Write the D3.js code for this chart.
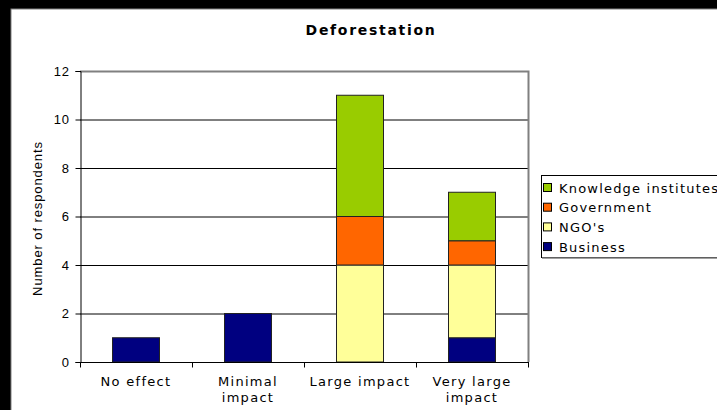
<!DOCTYPE html>
<html>
<head>
<meta charset="utf-8">
<script src="https://cdn.jsdelivr.net/npm/d3@7"></script>
<style>
  html, body { margin: 0; padding: 0; background: #000; }
  svg { display: block; }
</style>
</head>
<body>
<svg id="chart" width="717" height="410"></svg>
<script>
// Categories along the x axis (multi-line labels)
const categories = ["No effect", "Minimal impact", "Large impact", "Very large impact"];
const categoryLines = [["No effect"], ["Minimal", "impact"], ["Large impact"], ["Very large", "impact"]];

// Respondent counts per stakeholder group, stacked bottom to top
const series = ["Business", "NGO's", "Government", "Knowledge institutes"];
const business  = [1, 2, 0, 1];
const ngos      = [0, 0, 4, 3];
const government = [0, 0, 2, 1];
const knowledge = [0, 0, 5, 2];
const colors = ["#000080", "#FFFF99", "#FF6600", "#99CC00"];
const yTicks = [0, 2, 4, 6, 8, 10, 12];

const rows = categories.map((c, i) => ({
  cat: c,
  "Business": business[i],
  "NGO's": ngos[i],
  "Government": government[i],
  "Knowledge institutes": knowledge[i]
}));

const svg = d3.select("#chart");

// White chart panel with a grey edge on the black page
svg.append("rect").attr("x", 11).attr("y", 9).attr("width", 720).attr("height", 420)
  .attr("fill", "#fff").attr("stroke", "#808080").attr("stroke-width", 1);

const plot = { left: 80, right: 528, top: 71, bottom: 362 };

const x = d3.scaleBand().domain(categories).range([plot.left, plot.right]).paddingInner(0).paddingOuter(0);
const y = d3.scaleLinear().domain([0, 12]).range([plot.bottom, plot.top]);

// Gridlines
svg.append("g").selectAll("line").data(yTicks.filter(t => t > 0 && t < 12)).join("line")
  .attr("x1", plot.left).attr("x2", plot.right)
  .attr("y1", d => y(d) + 0.5).attr("y2", d => y(d) + 0.5)
  .attr("stroke", "#000").attr("stroke-width", 1);

// Plot area top and right border
svg.append("path")
  .attr("d", `M${plot.left},${y(12) + 0.5}H${plot.right + 0.5}V${plot.bottom}`)
  .attr("fill", "none").attr("stroke", "#808080").attr("stroke-width", 2);

// Stacked bars
const stack = d3.stack().keys(series)(rows);
const barW = 47;
svg.append("g").selectAll("g").data(stack).join("g")
  .attr("fill", (d, i) => colors[i])
  .selectAll("rect").data(d => d.filter(p => p[1] > p[0])).join("rect")
  .attr("x", d => x(d.data.cat) + x.bandwidth() / 2 - barW / 2)
  .attr("width", barW)
  .attr("y", d => y(d[1]))
  .attr("height", d => y(d[0]) - y(d[1]))
  .attr("stroke", "#222").attr("stroke-width", 1);

// Y axis
const yAxis = svg.append("g").attr("transform", `translate(${plot.left + 0.5},0)`)
  .call(d3.axisLeft(y).tickValues(yTicks).tickSize(5).tickPadding(6));
yAxis.select(".domain").attr("stroke", "#000");
yAxis.selectAll(".tick line").attr("stroke", "#000");
yAxis.selectAll("text").attr("font-family", "Liberation Sans, Arial, sans-serif")
  .attr("font-size", "13px").attr("letter-spacing", "0.6px").attr("fill", "#000");

// X axis with ticks between categories
const xAxis = svg.append("g").attr("transform", `translate(0,${plot.bottom + 0.5})`);
xAxis.append("line").attr("x1", plot.left).attr("x2", plot.right + 1)
  .attr("stroke", "#000");
const bounds = categories.map(c => x(c)).concat([plot.right]);
xAxis.selectAll(".tk").data(bounds).join("line").attr("class", "tk")
  .attr("x1", d => d + 0.5).attr("x2", d => d + 0.5).attr("y1", 0).attr("y2", 5)
  .attr("stroke", "#000");

// Category labels
const lab = svg.append("g").selectAll("text").data(categories).join("text")
  .attr("x", d => x(d) + x.bandwidth() / 2)
  .attr("y", 386)
  .attr("text-anchor", "middle")
  .attr("font-family", "DejaVu Sans, Verdana, sans-serif")
  .attr("font-size", "13px").attr("letter-spacing", "1.3px").attr("fill", "#000");
lab.each(function(d, i) {
  d3.select(this).selectAll("tspan").data(categoryLines[i]).join("tspan")
    .attr("x", x(d) + x.bandwidth() / 2)
    .attr("dy", (t, j) => j === 0 ? 0 : 16)
    .text(t => t);
});

// Title
svg.append("text").attr("x", 371).attr("y", 35).attr("text-anchor", "middle")
  .attr("font-family", "DejaVu Sans, Verdana, sans-serif").attr("font-weight", "bold")
  .attr("font-size", "14px").attr("letter-spacing", "1.7px").text("Deforestation");

// Y axis title
svg.append("text")
  .attr("transform", `translate(42,${(plot.top + plot.bottom) / 2 + 2}) rotate(-90)`)
  .attr("text-anchor", "middle")
  .attr("font-family", "Liberation Sans, Arial, sans-serif")
  .attr("font-size", "13px").attr("letter-spacing", "0.9px").text("Number of respondents");

// Legend (top entry is the top of the stack)
const legend = svg.append("g");
legend.append("rect").attr("x", 541.5).attr("y", 175.5).attr("width", 200).attr("height", 82)
  .attr("fill", "#fff").attr("stroke", "#000").attr("stroke-width", 1);
legend.append("line").attr("x1", 542).attr("x2", 741).attr("y1", 258).attr("y2", 258)
  .attr("stroke", "#808080").attr("stroke-width", 1.5);
const order = series.map((s, i) => ({ s, c: colors[i] })).reverse();
const items = legend.selectAll(".item").data(order).join("g").attr("class", "item")
  .attr("transform", (d, i) => `translate(548,${188 + i * 19.7})`);
items.append("rect").attr("x", -4.5).attr("y", -4.5).attr("width", 8).attr("height", 8)
  .attr("fill", d => d.c).attr("stroke", "#000").attr("stroke-width", 1);
items.append("text").attr("x", 11).attr("y", 4.5)
  .attr("font-family", "DejaVu Sans, Verdana, sans-serif")
  .attr("font-size", "13px").attr("letter-spacing", "1.2px").text(d => d.s);
</script>
</body>
</html>
